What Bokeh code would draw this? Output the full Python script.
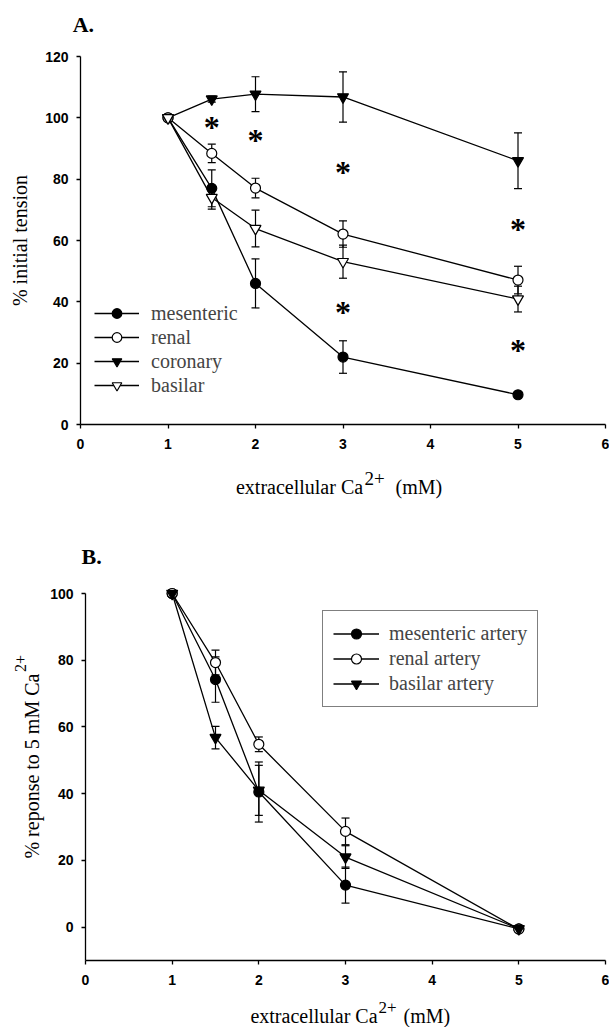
import math
from bokeh.plotting import figure
from bokeh.layouts import column
from bokeh.models import (ColumnDataSource, Whisker, TeeHead, Legend, LegendItem,
                          Label, FixedTicker, Range1d)
from bokeh.core.properties import value
from bokeh.embed import file_html
from bokeh.resources import INLINE

# ---------------- Panel A data ----------------
ca_a = [1, 1.5, 2, 3, 5]
mes_a = [100, 77, 46, 22, 9.7]
mes_a_err = [0, 6, 8, 5.3, 1]
ren_a = [100, 88.4, 77.1, 62.1, 47.1]
ren_a_err = [0, 3, 3.2, 4.3, 4.5]
cor_a = [100, 106.1, 107.7, 106.8, 86]
cor_a_err = [0, 1, 5.7, 8.2, 9.1]
bas_a = [100, 74, 63.9, 53.1, 40.9]
bas_a_err = [0, 3.8, 6, 5.4, 4.2]
star_x = [1.5, 2, 3, 3, 5, 5]
star_y = [97.9, 93.6, 83.3, 37.8, 64.8, 25.2]
ticks_x = [0, 1, 2, 3, 4, 5, 6]
ticks_a = [0, 20, 40, 60, 80, 100, 120]

# ---------------- Panel B data ----------------
ca_b = [1, 1.5, 2, 3, 5]
mes_b = [100, 74.2, 40.5, 12.6, -0.5]
mes_b_err = [0, 6.8, 9, 5.4, 0]
ren_b = [100, 79.3, 54.8, 28.7, -0.6]
ren_b_err = [0, 3.7, 2.2, 4, 0]
bas_b = [100, 56.8, 41, 21.0, -0.5]
bas_b_err = [0, 3.4, 7.5, 3.4, 0]
ticks_b = [0, 20, 40, 60, 80, 100]

SERIF = "Liberation Serif"
W = 609


def make_fig(h, ax_left_px, ax_right_px, y_top_px, y_bot_px, y_top_val, y_bot_val,
             x_axis_val, y_bounds, yticks):
    # pixel geometry -> ranges so that the frame covers the whole canvas
    xs = (ax_right_px - ax_left_px) / 6.0
    ys = (y_bot_px - y_top_px) / (y_top_val - y_bot_val)
    x0 = -ax_left_px / xs
    x1 = 6 + (W - ax_right_px) / xs
    y1 = y_top_val + y_top_px / ys
    y0 = y_bot_val - (h - y_bot_px) / ys
    p = figure(width=W, height=h, x_range=Range1d(x0, x1), y_range=Range1d(y0, y1),
               output_backend="svg", toolbar_location=None,
               min_border_left=0, min_border_right=0,
               min_border_top=0, min_border_bottom=0)
    p.outline_line_color = None
    p.xgrid.visible = False
    p.ygrid.visible = False
    p.xaxis.ticker = FixedTicker(ticks=ticks_x)
    p.yaxis.ticker = FixedTicker(ticks=yticks)
    p.xaxis.fixed_location = x_axis_val
    p.yaxis.fixed_location = 0
    p.xaxis.bounds = (0, 6)
    p.yaxis.bounds = y_bounds
    for ax in (p.xaxis[0], p.yaxis[0]):
        ax.axis_line_color = "black"
        ax.axis_line_width = 1.3
        ax.major_tick_line_color = "black"
        ax.major_tick_line_width = 1.3
        ax.major_tick_in = 0
        ax.major_tick_out = 4
        ax.minor_tick_line_color = None
        ax.major_label_text_font = "Liberation Sans"
        ax.major_label_text_font_style = "bold"
        ax.major_label_text_font_size = "14px"
        ax.major_label_text_color = "black"
    p.xaxis.major_label_standoff = 10
    p.yaxis.major_label_standoff = 8
    return p


def add_series(p, xs, ys, errs, marker, fill, size):
    src = ColumnDataSource(dict(x=xs, y=ys))
    bx = [x for x, e in zip(xs, errs) if e > 0]
    up = [y + e for y, e in zip(ys, errs) if e > 0]
    lo = [y - e for y, e in zip(ys, errs) if e > 0]
    wsrc = ColumnDataSource(dict(base=bx, upper=up, lower=lo))
    w = Whisker(source=wsrc, base="base", upper="upper", lower="lower",
                line_color="black", line_width=1.2,
                upper_head=TeeHead(size=8, line_color="black", line_width=1.2),
                lower_head=TeeHead(size=8, line_color="black", line_width=1.2))
    p.add_layout(w)
    lr = p.line("x", "y", source=src, line_color="black", line_width=1.3)
    sr = p.scatter("x", "y", source=src, marker=marker, size=size,
                   fill_color=fill, line_color="black", line_width=1.2)
    return [lr, sr]


def lab(p, x, y, text, size="20px", align="left", baseline="alphabetic",
        angle=0, style="normal"):
    p.add_layout(Label(x=x, y=y, text=text, text_font=SERIF, text_font_size=size,
                       text_font_style=style, text_align=align,
                       text_baseline=baseline, angle=angle, text_color="black"))


# ================= Panel A =================
pa = make_fig(505, 80, 605, 56, 424, 120, 0, 0, (0, 120), ticks_a)
r_mes = add_series(pa, ca_a, mes_a, mes_a_err, "circle", "black", 10)
r_ren = add_series(pa, ca_a, ren_a, ren_a_err, "circle", "white", 10)
r_cor = add_series(pa, ca_a, cor_a, cor_a_err, "inverted_triangle", "black", 11)
r_bas = add_series(pa, ca_a, bas_a, bas_a_err, "inverted_triangle", "white", 11)

pa.text(x=star_x, y=star_y, text=["*"] * len(star_x), text_font=value(SERIF),
        text_font_style="bold", text_font_size="32px", text_align="center",
        text_baseline="alphabetic", y_offset=3, text_color="black")

leg_a = Legend(items=[LegendItem(label="mesenteric", renderers=r_mes),
                      LegendItem(label="renal", renderers=r_ren),
                      LegendItem(label="coronary", renderers=r_cor),
                      LegendItem(label="basilar", renderers=r_bas)],
               location=(94, 108), border_line_alpha=0, background_fill_alpha=0,
               padding=0, spacing=0, margin=0, glyph_height=24, label_height=24,
               glyph_width=45, label_standoff=12,
               label_text_font=SERIF, label_text_font_size="20px")
pa.add_layout(leg_a)

lab(pa, -0.09, 130.5, "A.", size="22px", style="bold")
lab(pa, -0.686, 60, "% initial tension", align="center", baseline="middle",
    angle=math.pi / 2)
lab(pa, 3.23, -20.5, "extracellular Ca", align="right")
lab(pa, 3.245, -17.6, "2+", size="19px")
lab(pa, 3.6, -20.5, "(mM)")

# ================= Panel B =================
pb = make_fig(522, 85, 605, 88, 455, 100, -10, -10, (-10, 100), ticks_b)
b_mes = add_series(pb, ca_b, mes_b, mes_b_err, "circle", "black", 10)
b_ren = add_series(pb, ca_b, ren_b, ren_b_err, "circle", "white", 10)
b_bas = add_series(pb, ca_b, bas_b, bas_b_err, "inverted_triangle", "black", 11)

leg_b = Legend(items=[LegendItem(label="mesenteric artery", renderers=b_mes),
                      LegendItem(label="renal artery", renderers=b_ren),
                      LegendItem(label="basilar artery", renderers=b_bas)],
               location=(322, 320), border_line_color="black", border_line_width=1,
               background_fill_color="white", padding=10, spacing=0, margin=0,
               glyph_height=25, label_height=25, glyph_width=46, label_standoff=10,
               label_text_font=SERIF, label_text_font_size="20px")
pb.add_layout(leg_b)

lab(pb, -0.046, 111, "B.", size="22px", style="bold")
lab(pb, -0.623, 76, "% reponse to 5 mM Ca", align="right", baseline="middle",
    angle=math.pi / 2)
lab(pb, -0.75, 76.5, "2+", size="16px", align="left", baseline="middle",
    angle=math.pi / 2)
lab(pb, 3.37, -26.5, "extracellular Ca", align="right")
lab(pb, 3.38, -24.0, "2+", size="17px")
lab(pb, 3.67, -26.5, "(mM)")

layout = column(pa, pb)
open("out.html", "w").write(file_html(layout, INLINE))
